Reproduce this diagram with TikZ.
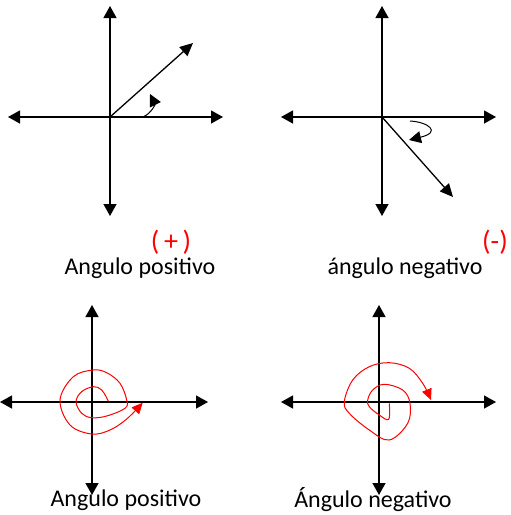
\documentclass[tikz,border=0pt]{standalone}
\usepackage{fontspec}
\setmainfont{Carlito}
\usetikzlibrary{arrows.meta}
\begin{document}
\begin{tikzpicture}[x=1pt,y=-1pt,
 axis/.style={line width=1.3pt, {Triangle[length=12pt,width=13pt]}-{Triangle[length=12pt,width=13pt]}},
 ray/.style={line width=1.3pt, -{Triangle[length=13pt,width=12pt]}},
 turn/.style={line width=1pt, -{Triangle[length=12pt,width=12pt]}},
 spiral/.style={red, line width=1pt, -{Triangle[length=11pt,width=10pt]}},
 lbl/.style={font=\fontsize{24}{26}\selectfont, text=black, inner sep=0pt},
 sign/.style={font=\fontsize{28}{30}\selectfont, text=red, inner sep=0pt}]
\useasboundingbox (0,0) rectangle (511,515);
% ---- top left ----
\coordinate (a1t) at (110,6);  \coordinate (a1b) at (110,216);
\coordinate (a1l) at (8,117);  \coordinate (a1r) at (223,117);
\coordinate (o1) at (110,117); \coordinate (r1) at (193,43);
\coordinate (t1s) at (143,117); \coordinate (t1e) at (150,94);
\draw[axis] (a1t) -- (a1b);
\draw[axis] (a1l) -- (a1r);
\draw[ray] (o1) -- (r1);
\draw[turn] (t1s) .. controls (152,113) and (155,104) .. (t1e);
% ---- top right ----
\coordinate (a2t) at (382,6);  \coordinate (a2b) at (382,216);
\coordinate (a2l) at (281,117); \coordinate (a2r) at (496,117);
\coordinate (o2) at (382,117); \coordinate (r2) at (453,197);
\coordinate (t2s) at (410,121); \coordinate (t2e) at (409,140);
\draw[axis] (a2t) -- (a2b);
\draw[axis] (a2l) -- (a2r);
\draw[ray] (o2) -- (r2);
\draw[turn] (t2s) .. controls (428,122) and (442,132) .. (t2e);
% ---- labels top ----
\node[sign] (s1) at (171,242) {(\,+\,)};
\node[lbl] (l1) at (140,268) {Angulo positivo};
\node[sign] (s2) at (495,242) {(-)};
\node[lbl] (l2) at (405,268) {ángulo negativo};
% ---- bottom left ----
\coordinate (a3t) at (92,305);  \coordinate (a3b) at (92,495);
\coordinate (a3l) at (0,402);  \coordinate (a3r) at (208,402);
\draw[axis] (a3t) -- (a3b);
\draw[axis] (a3l) -- (a3r);
\draw[spiral] plot[smooth, tension=0.6] coordinates {(108.3,401) (101.7,390) (93.3,386.7) (81.7,391.7) (76,401.7) (81.7,413.3) (91.7,417.7) (106.7,416) (125,408.3) (126.7,400) (120,383.3) (106.7,372.7) (93.3,370) (73.3,376.7) (60,400) (70,425) (91.7,434) (110,430) (126.7,419) (142.7,402.7)};
% ---- bottom right ----
\coordinate (a4t) at (379,305);  \coordinate (a4b) at (379,495);
\coordinate (a4l) at (281,402); \coordinate (a4r) at (496,402);
\draw[axis] (a4t) -- (a4b);
\draw[axis] (a4l) -- (a4r);
\draw[spiral] plot[smooth, tension=0.6] coordinates {(389.3,403.3) (388.7,419.3) (379.3,415) (369.3,406.7) (367.7,400) (372.7,390) (384.3,384.3) (402.7,390) (410,403.3) (407.7,423.3) (389.3,440) (369.3,430) (349.3,413.3) (344.3,401.7) (352.7,380) (369.3,366.7) (389.3,362.7) (409.3,368.3) (422.7,383.3) (431,400)};
% ---- labels bottom ----
\node[lbl] (l3) at (126,500) {Angulo positivo};
\node[lbl] (l4) at (373,500) {Ángulo negativo};
\end{tikzpicture}
\end{document}
